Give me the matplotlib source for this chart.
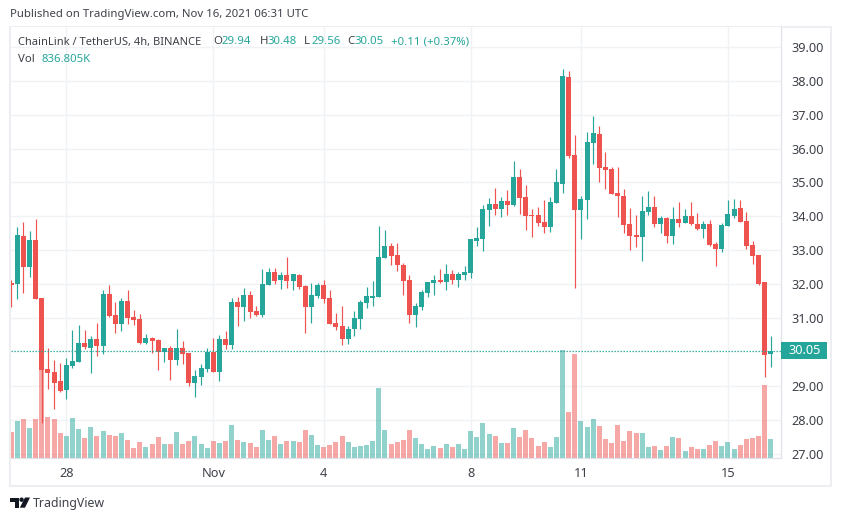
import matplotlib
matplotlib.use("Agg")
import matplotlib.pyplot as plt
from matplotlib.patches import Rectangle, Polygon, Circle
from matplotlib.transforms import blended_transform_factory

plt.rcParams['font.family'] = ['Noto Sans', 'DejaVu Sans']

opens = [32.04,32.01,33.42,32.51,33.30,31.60,29.51,29.42,29.15,28.88,
 29.59,29.71,30.27,30.12,30.39,30.18,31.71,31.09,30.83,31.51,
 31.03,30.98,30.27,30.42,30.36,30.00,30.12,29.77,30.12,29.98,
 29.09,29.27,29.50,30.00,29.42,30.39,30.21,31.48,31.33,31.68,
 31.21,31.09,31.98,32.36,32.12,32.27,32.09,32.27,31.95,31.33,
 31.65,31.98,31.60,30.86,30.77,30.39,30.68,30.98,31.45,31.60,
 31.62,32.77,33.13,32.86,32.57,32.12,31.09,31.33,31.74,32.04,
 32.12,32.07,32.30,32.12,32.27,32.33,33.27,33.33,34.19,34.36,
 34.22,34.45,34.33,35.16,34.57,34.03,34.03,33.84,33.69,34.40,
 34.96,38.10,35.82,34.20,34.49,36.17,36.44,35.46,35.40,34.70,
 34.61,33.78,33.45,33.39,34.13,34.28,33.78,33.96,33.42,33.93,
 33.81,34.02,33.78,33.63,33.78,33.19,33.04,33.72,34.01,34.25,
 33.87,33.16,32.86,32.07,29.94]
closes = [31.98,33.45,32.51,33.30,31.57,29.48,29.39,29.09,28.86,29.62,
 29.74,30.27,30.15,30.39,30.18,31.71,31.06,30.83,31.51,31.01,
 30.95,30.27,30.42,30.33,30.00,30.12,29.77,30.12,29.95,29.09,
 29.30,29.53,30.00,29.42,30.39,30.21,31.48,31.33,31.68,31.18,
 31.09,32.01,32.36,32.09,32.27,32.09,32.30,31.92,31.33,31.68,
 31.98,31.57,30.83,30.74,30.39,30.68,31.01,31.48,31.65,31.65,
 32.80,33.13,32.83,32.57,32.09,31.09,31.36,31.77,32.07,32.12,
 32.07,32.30,32.12,32.30,32.36,33.33,33.36,34.22,34.36,34.22,
 34.45,34.33,35.16,34.54,34.01,34.00,33.81,33.69,34.43,35.00,
 38.13,35.79,34.20,34.52,36.20,36.47,35.43,35.38,34.67,34.61,
 33.75,33.42,33.39,34.16,34.28,33.78,33.96,33.42,33.93,33.81,
 34.02,33.78,33.63,33.78,33.16,33.04,33.75,34.07,34.22,33.84,
 33.13,32.83,32.01,29.92,30.05]
highs = [32.13,33.69,33.83,33.57,33.92,31.60,30.12,29.77,29.68,29.83,
 30.65,30.81,30.65,30.47,30.86,31.83,31.98,31.48,31.60,31.83,
 31.24,31.12,30.53,30.45,30.39,30.12,30.18,30.68,30.33,29.98,
 29.48,29.65,30.12,30.42,30.50,30.62,31.60,31.63,31.89,31.80,
 31.36,32.45,32.48,32.48,32.36,32.80,32.30,32.30,31.98,32.04,
 32.04,32.13,31.83,31.15,31.36,30.77,31.21,31.54,31.92,32.10,
 33.72,33.60,33.21,33.21,32.63,32.27,31.45,31.83,32.07,32.27,
 32.45,32.60,32.42,32.36,32.54,33.33,33.69,34.33,34.54,34.83,
 34.57,34.77,35.63,35.39,34.92,34.22,34.28,34.49,34.58,35.41,
 38.33,38.27,36.41,34.61,36.50,36.97,36.65,35.91,35.46,35.46,
 34.81,34.25,34.04,34.61,34.76,34.61,34.02,33.99,34.28,34.43,
 34.22,34.43,34.10,33.87,33.90,33.25,33.81,34.49,34.52,34.49,
 34.13,33.27,32.86,32.07,30.48]
lows = [31.33,31.57,31.74,32.21,31.57,27.92,28.91,28.33,28.83,28.62,
 29.53,29.71,30.09,29.39,29.89,29.95,31.03,30.56,30.62,30.83,
 30.80,30.24,30.24,29.98,29.48,29.71,29.18,29.62,29.65,29.00,
 28.69,29.04,29.42,29.42,29.15,30.09,30.09,30.77,30.92,31.00,
 31.06,31.03,31.98,32.01,31.86,31.89,31.83,31.86,30.56,30.86,
 31.60,31.45,30.83,30.65,30.21,30.24,30.48,30.68,31.30,31.36,
 31.62,32.77,32.57,32.39,31.68,30.86,30.74,31.24,31.62,31.68,
 32.04,31.83,32.01,31.92,32.12,32.18,33.13,32.98,33.72,34.04,
 33.98,34.04,34.30,34.07,33.60,33.39,33.72,33.51,33.54,34.40,
 34.70,35.73,31.89,33.34,33.93,35.55,35.02,34.81,34.67,33.99,
 33.51,33.01,33.10,32.69,34.04,33.69,33.51,33.22,33.19,33.69,
 33.81,33.75,33.60,33.36,33.13,32.54,32.95,33.72,33.96,33.84,
 33.04,32.60,31.98,29.27,29.56]
volumes_k = [1141,1617,1704,1314,1704,3812,1791,1704,1097,967,
 1747,1271,881,1357,967,1184,1011,967,1097,794,
 448,708,491,621,924,621,621,1141,621,751,
 967,621,448,751,664,751,1444,794,708,664,
 491,1227,794,967,621,751,751,708,1227,1011,
 578,491,578,708,967,708,491,534,578,751,
 3047,1227,621,708,794,1227,881,621,404,534,
 448,621,491,621,404,1184,924,1531,1054,967,
 664,664,1314,924,1227,881,534,708,491,924,
 4693,2007,4520,1617,1357,1704,1401,838,664,1444,
 751,1184,1097,1097,491,534,361,534,924,881,
 318,491,404,404,578,751,534,708,404,578,
 838,881,967,3177,837]

price_ticks = [27,28,29,31,32,33,34,35,36,37,38,39]
date_idx = [9,33,51,75,93,117]
date_labels = ['28','Nov','4','8','11','15']

W, H = 841, 521
UP, DOWN = '#26a69a', '#ef5350'
GRID = '#f0f3f6'
TXT = '#3e4149'

def fx(x): return x / W
def fy(y): return 1 - y / H

fig = plt.figure(figsize=(W/100, H/100), dpi=100, facecolor='white')
L, R, T, B = 11.0, 781.3, 27.0, 458.3
pos = [fx(L), fy(B), (R-L)/W, (B-T)/H]

n = len(closes)
x = list(range(n))
xlim = (-0.03, 125.7)
ylim = (26.875, 39.58)
bar_w = 5 / 6.125

ax_bg = fig.add_axes(pos, zorder=1)
ax_vol = fig.add_axes(pos, zorder=2)
ax = fig.add_axes(pos, zorder=3)
for a in (ax_bg, ax_vol, ax):
    a.set_xlim(*xlim)
ax_bg.set_ylim(*ylim)
ax.set_ylim(*ylim)
ax_vol.set_ylim(0, 18675)
for a in (ax_vol, ax):
    a.patch.set_visible(False)
    a.axis('off')

ax_bg.set_yticks(price_ticks)
ax_bg.set_yticklabels([f'{p:.2f}' for p in price_ticks], fontsize=9.2, color=TXT)
ax_bg.yaxis.tick_right()
ax_bg.set_xticks(date_idx)
ax_bg.set_xticklabels(date_labels, fontsize=9.2, color=TXT)
ax_bg.tick_params(axis='both', length=0)
ax_bg.tick_params(axis='y', pad=7)
ax_bg.tick_params(axis='x', pad=6)
ax_bg.grid(True, color=GRID, linewidth=1.0)
ax_bg.set_axisbelow(True)
for s in ('left', 'top'):
    ax_bg.spines[s].set_visible(False)
for s in ('right', 'bottom'):
    ax_bg.spines[s].set_color('#e0e3eb')
    ax_bg.spines[s].set_linewidth(0.9)

cols = [UP if c >= o else DOWN for o, c in zip(opens, closes)]
ax_vol.bar(x, volumes_k, width=bar_w, color=cols, alpha=0.5, linewidth=0)

ax.vlines(x, lows, highs, colors=cols, linewidth=0.85)
ax.bar(x, [max(abs(c-o), 0.03) for o, c in zip(opens, closes)],
       bottom=[min(o, c) for o, c in zip(opens, closes)],
       width=bar_w, color=cols, linewidth=0)

ax.axhline(closes[-1], color=UP, linestyle=(0, (1.1, 1.3)), linewidth=0.9)

# price tag on axis
tr = blended_transform_factory(ax.transAxes, ax.transData)
ax.add_patch(Rectangle((1.0, closes[-1]-0.245), 46/(R-L), 0.49, transform=tr,
                       facecolor=UP, edgecolor='none', clip_on=False))
ax.text(1 + 23/(R-L), closes[-1], f'{closes[-1]:.2f}', transform=tr, va='center', ha='center',
        fontsize=9.2, color='white', fontweight='bold', clip_on=False)

# outer frame
fig.add_artist(Rectangle((fx(10), fy(486)), (831-10)/W, (486-26.5)/H, transform=fig.transFigure,
                         fill=False, edgecolor='#eceef2', linewidth=1.5))

# header
fig.text(fx(10), fy(15), 'Published on TradingView.com, Nov 16, 2021 06:31 UTC',
         fontsize=8.2, color=TXT, va='center', ha='left')
fig.text(fx(18), fy(42), 'ChainLink / TetherUS, 4h, BINANCE', fontsize=8.0, color=TXT, va='center')
for px_, lab, val in [(213.5, 'O', '29.94'), (260, 'H', '30.48'), (304, 'L', '29.56'), (347, 'C', '30.05')]:
    fig.text(fx(px_), fy(42), lab, fontsize=8.2, color=TXT, va='center')
    fig.text(fx(px_ + (8.5 if lab == 'O' else 7.5)), fy(42), val, fontsize=8.2, color=UP, va='center')
fig.text(fx(391), fy(42), '+0.11 (+0.37%)', fontsize=8.2, color=UP, va='center')
fig.text(fx(18), fy(59), 'Vol', fontsize=8.2, color=TXT, va='center')
fig.text(fx(41.5), fy(59), '836.805K', fontsize=8.2, color=UP, va='center')

# logo
logo = '#131722'
fig.add_artist(Polygon([(fx(10), fy(497.5)), (fx(19), fy(497.5)), (fx(19), fy(507.7)), (fx(14.5), fy(507.7)),
                        (fx(14.5), fy(502)), (fx(10), fy(502))], closed=True, transform=fig.transFigure,
                       facecolor=logo, edgecolor='none'))
fig.add_artist(Circle((21.6, H-499.7), 2.2, transform=None, facecolor=logo, edgecolor='none'))
fig.add_artist(Polygon([(fx(25), fy(497.5)), (fx(30), fy(497.5)), (fx(25), fy(507.7)), (fx(19.8), fy(507.7))],
                       closed=True, transform=fig.transFigure, facecolor=logo, edgecolor='none'))
fig.text(fx(33), fy(503), 'TradingView', fontsize=8.9, color='#3e4149', va='center')

fig.savefig('out.png', dpi=100, facecolor='white')
